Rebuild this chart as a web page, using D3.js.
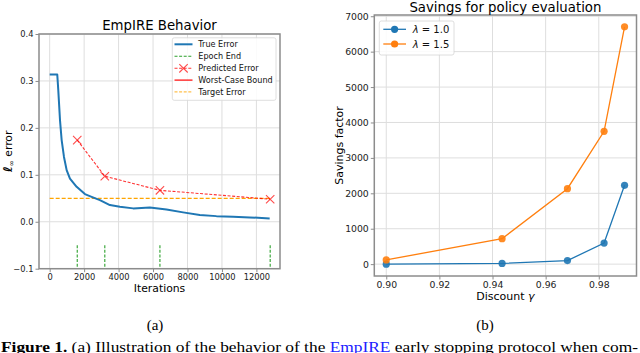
<!DOCTYPE html>
<html><head><meta charset="utf-8">
<script src="https://cdn.jsdelivr.net/npm/d3@7"></script>
<style>body{margin:0;background:#fff} svg{display:block}</style>
</head><body><svg id="c" width="640" height="353"></svg>
<script>
// ---------- Data: panel (a) ----------
const trueIters = [0, 440, 500, 600, 695, 830, 985, 1177, 1565, 2046, 2435, 2916, 3496, 4075, 4846, 5814, 6780, 7745, 8713, 9680, 10646, 11612, 12771];
const trueErr   = [0.3136, 0.3136, 0.280, 0.216, 0.174, 0.138, 0.110, 0.092, 0.0745, 0.059, 0.053, 0.046, 0.0355, 0.032, 0.0285, 0.0306, 0.026, 0.020, 0.0143, 0.012, 0.0107, 0.0093, 0.0072];
const epochIters = [1600, 3200, 6400, 12800];
const predErr    = [0.174, 0.097, 0.067, 0.048];
const targetErr  = 0.05;
const xTicksA = [0, 2000, 4000, 6000, 8000, 10000, 12000];
const yTicksA = [-0.1, 0.0, 0.1, 0.2, 0.3, 0.4];
const legendA = ["True Error", "Epoch End", "Predicted Error", "Worst-Case Bound", "Target Error"];

// ---------- Data: panel (b) ----------
const gammas = [0.90, 0.9436, 0.9682, 0.982, 0.9897];
const savL10 = [0, 20, 100, 595, 2225];
const savL15 = [120, 718, 2130, 3750, 6700];
const xTicksB = [0.90, 0.92, 0.94, 0.96, 0.98];
const yTicksB = [0, 1000, 2000, 3000, 4000, 5000, 6000, 7000];
const legendB = ["1.0", "1.5"];

const BLUE = "#1f77b4", ORANGE = "#ff7f0e", GREEN = "#2ca02c", RED = "#ff0000", TORANGE = "#ffa500";
const SPINE = "#8c8c8c", GRID = "#dedede";
const SANS = "DejaVu Sans, sans-serif";

const svg = d3.select("#c");

function frame(g, x0, x1, y0, y1) {
  g.append("rect").attr("x", x0).attr("y", y0).attr("width", x1 - x0).attr("height", y1 - y0)
    .attr("fill", "none").attr("stroke", SPINE).attr("stroke-width", 1.5);
}

// ================= Panel (a) =================
{
  const L = 39, R = 280, T = 34, B = 268.7;
  const x = d3.scaleLinear().domain([-620, 13370]).range([L, R]);
  const y = d3.scaleLinear().domain([-0.1, 0.4]).range([B, T]);
  const g = svg.append("g");

  g.selectAll(".gx").data(xTicksA).join("line")
    .attr("x1", d => x(d)).attr("x2", d => x(d)).attr("y1", T).attr("y2", B)
    .attr("stroke", GRID).attr("stroke-width", 1);
  g.selectAll(".gy").data(yTicksA).join("line")
    .attr("x1", L).attr("x2", R).attr("y1", d => y(d)).attr("y2", d => y(d))
    .attr("stroke", GRID).attr("stroke-width", 1);

  const ax = g.append("g").attr("transform", `translate(0,${B})`)
    .call(d3.axisBottom(x).tickValues(xTicksA).tickFormat(d3.format("d")).tickSize(3.5).tickPadding(1.5));
  const ay = g.append("g").attr("transform", `translate(${L},0)`)
    .call(d3.axisLeft(y).tickValues(yTicksA).tickFormat(d3.format(".1f")).tickSize(3.5).tickPadding(2));
  [ax, ay].forEach(a => {
    a.select(".domain").remove();
    a.selectAll("line").attr("stroke", SPINE);
    a.selectAll("text").attr("font-family", SANS).attr("font-size", 8.3).attr("fill", "#222");
  });

  g.append("line").attr("x1", x(0)).attr("x2", x(12800)).attr("y1", y(targetErr)).attr("y2", y(targetErr))
    .attr("stroke", TORANGE).attr("stroke-width", 1.2).attr("stroke-dasharray", "4,2");

  g.selectAll(".ep").data(epochIters).join("line")
    .attr("x1", d => x(d)).attr("x2", d => x(d)).attr("y1", y(-0.05)).attr("y2", y(-0.096))
    .attr("stroke", GREEN).attr("stroke-width", 1.1).attr("stroke-dasharray", "3,1.6");

  g.append("path").datum(trueIters.map((d, i) => [d, trueErr[i]]))
    .attr("d", d3.line().x(d => x(d[0])).y(d => y(d[1])))
    .attr("fill", "none").attr("stroke", BLUE).attr("stroke-width", 2).attr("stroke-linejoin", "round");

  const pred = epochIters.map((d, i) => [d, predErr[i]]);
  g.append("path").datum(pred)
    .attr("d", d3.line().x(d => x(d[0])).y(d => y(d[1])))
    .attr("fill", "none").attr("stroke", RED).attr("stroke-opacity", 0.8).attr("stroke-width", 1.1).attr("stroke-dasharray", "3,1.6");
  const xm = (sel, cx, cy, s) => {
    sel.append("path").attr("d", `M${cx - s},${cy - s}L${cx + s},${cy + s}M${cx - s},${cy + s}L${cx + s},${cy - s}`)
      .attr("stroke", RED).attr("stroke-opacity", 0.7).attr("stroke-width", 1.1).attr("fill", "none");
  };
  pred.forEach(d => xm(g, x(d[0]), y(d[1]), 4.2));

  frame(g, L, R, T, B);

  g.append("text").attr("x", (L + R) / 2).attr("y", 30).attr("text-anchor", "middle")
    .attr("font-family", SANS).attr("font-size", 13.3).attr("fill", "#000").text("EmpIRE Behavior");
  g.append("text").attr("x", (L + R) / 2).attr("y", 291.5).attr("text-anchor", "middle")
    .attr("font-family", SANS).attr("font-size", 10.8).attr("fill", "#000").text("Iterations");
  const yl = g.append("text").attr("transform", `translate(11.5,${(T + B) / 2}) rotate(-90)`)
    .attr("text-anchor", "middle").attr("font-family", SANS).attr("font-size", 10.8).attr("fill", "#000");
  yl.append("tspan").attr("font-style", "italic").attr("font-weight", "bold").attr("font-size", 12).text("ℓ");
  yl.append("tspan").attr("font-size", 7.5).attr("dy", 2.5).text("∞");
  yl.append("tspan").attr("dy", -2.5).text(" error");

  const lg = g.append("g");
  lg.append("rect").attr("x", 172.3).attr("y", 37.8).attr("width", 103.7).attr("height", 62.5).attr("rx", 2)
    .attr("fill", "#fff").attr("fill-opacity", 0.85).attr("stroke", "#d6d6d6").attr("stroke-width", 0.8);
  const rows = [44.3, 56.3, 68.3, 80.1, 91.9];
  const styles = [
    {c: BLUE, w: 2, dash: null},
    {c: GREEN, w: 1.1, dash: "3,1.6"},
    {c: RED, w: 1.1, dash: "3,1.6", op: 0.8, mark: true},
    {c: RED, w: 1.2, dash: null},
    {c: TORANGE, w: 1.2, dash: "3,1.6", op: 0.7}
  ];
  legendA.forEach((t, i) => {
    const s = styles[i];
    const ln = lg.append("line").attr("x1", 174.5).attr("x2", 192.5).attr("y1", rows[i]).attr("y2", rows[i])
      .attr("stroke", s.c).attr("stroke-width", s.w).attr("stroke-opacity", s.op || 1);
    if (s.dash) ln.attr("stroke-dasharray", s.dash);
    if (s.mark) xm(lg, 183.5, rows[i], 4.2);
    lg.append("text").attr("x", 198.3).attr("y", rows[i] + 2.9).attr("font-family", SANS)
      .attr("font-size", 8.1).attr("fill", "#111").text(t);
  });
}

// ================= Panel (b) =================
{
  const L = 374.3, R = 636.5, T = 15, B = 276;
  const x = d3.scaleLinear().domain([0.8955, 0.9942]).range([L, R]);
  const y = d3.scaleLinear().domain([-335, 7035]).range([B, T]);
  const g = svg.append("g");

  g.selectAll(".gx").data(xTicksB).join("line")
    .attr("x1", d => x(d)).attr("x2", d => x(d)).attr("y1", T).attr("y2", B)
    .attr("stroke", GRID).attr("stroke-width", 1);
  g.selectAll(".gy").data(yTicksB).join("line")
    .attr("x1", L).attr("x2", R).attr("y1", d => y(d)).attr("y2", d => y(d))
    .attr("stroke", GRID).attr("stroke-width", 1);

  const ax = g.append("g").attr("transform", `translate(0,${B})`)
    .call(d3.axisBottom(x).tickValues(xTicksB).tickFormat(d3.format(".2f")).tickSize(3.5).tickPadding(2));
  const ay = g.append("g").attr("transform", `translate(${L},0)`)
    .call(d3.axisLeft(y).tickValues(yTicksB).tickFormat(d3.format("d")).tickSize(3.5).tickPadding(2));
  [ax, ay].forEach(a => {
    a.select(".domain").remove();
    a.selectAll("line").attr("stroke", SPINE);
    a.selectAll("text").attr("font-family", SANS).attr("font-size", 9.3).attr("fill", "#222");
  });

  const series = [{v: savL10, c: BLUE}, {v: savL15, c: ORANGE}];
  series.forEach(s => {
    const pts = gammas.map((d, i) => [d, s.v[i]]);
    g.append("path").datum(pts).attr("d", d3.line().x(d => x(d[0])).y(d => y(d[1])))
      .attr("fill", "none").attr("stroke", s.c).attr("stroke-width", 1.3);
    g.selectAll(null).data(pts).join("circle").attr("cx", d => x(d[0])).attr("cy", d => y(d[1]))
      .attr("r", 3.6).attr("fill", s.c).attr("fill-opacity", 0.9);
  });

  frame(g, L, R, T, B);

  g.append("text").attr("x", (L + R) / 2).attr("y", 11.5).attr("text-anchor", "middle")
    .attr("font-family", SANS).attr("font-size", 13.3).attr("fill", "#000").text("Savings for policy evaluation");
  const xl = g.append("text").attr("x", (L + R) / 2).attr("y", 299.5).attr("text-anchor", "middle")
    .attr("font-family", SANS).attr("font-size", 11).attr("fill", "#000");
  xl.append("tspan").text("Discount ");
  xl.append("tspan").attr("font-style", "italic").text("γ");
  g.append("text").attr("transform", `translate(343,${(T + B) / 2}) rotate(-90)`)
    .attr("text-anchor", "middle").attr("font-family", SANS).attr("font-size", 11).attr("fill", "#000")
    .text("Savings factor");

  const lg = g.append("g");
  lg.append("rect").attr("x", 379.3).attr("y", 21).attr("width", 74.7).attr("height", 34).attr("rx", 2)
    .attr("fill", "#fff").attr("fill-opacity", 0.85).attr("stroke", "#d6d6d6").attr("stroke-width", 0.8);
  const rows = [29.3, 44];
  legendB.forEach((t, i) => {
    const c = series[i].c;
    lg.append("line").attr("x1", 383.3).attr("x2", 406).attr("y1", rows[i]).attr("y2", rows[i])
      .attr("stroke", c).attr("stroke-width", 1.3);
    lg.append("circle").attr("cx", 394.6).attr("cy", rows[i]).attr("r", 3.6).attr("fill", c);
    const tx = lg.append("text").attr("x", 412.7).attr("y", rows[i] + 3.6).attr("font-family", SANS)
      .attr("font-size", 10).attr("fill", "#111");
    tx.append("tspan").attr("font-style", "italic").text("λ");
    tx.append("tspan").text(" = " + t);
  });
}

// ================= Captions =================
const SERIF = "Liberation Serif, DejaVu Serif, serif";
svg.append("text").attr("x", 155).attr("y", 330).attr("text-anchor", "middle")
  .attr("font-family", SERIF).attr("font-size", 15).attr("fill", "#000").text("(a)");
svg.append("text").attr("x", 485).attr("y", 330).attr("text-anchor", "middle")
  .attr("font-family", SERIF).attr("font-size", 15).attr("fill", "#000").text("(b)");
const cap = svg.append("text").attr("x", 1).attr("y", 352).attr("font-family", SERIF)
  .attr("font-size", 14.5).attr("fill", "#000").attr("textLength", 637).attr("lengthAdjust", "spacingAndGlyphs");
cap.append("tspan").attr("font-weight", "bold").text("Figure 1.");
cap.append("tspan").text(" (a) Illustration of the behavior of the ");
cap.append("tspan").attr("fill", "#2020ff").text("EmpIRE");
cap.append("tspan").text(" early stopping protocol when com-");
</script></body></html>
